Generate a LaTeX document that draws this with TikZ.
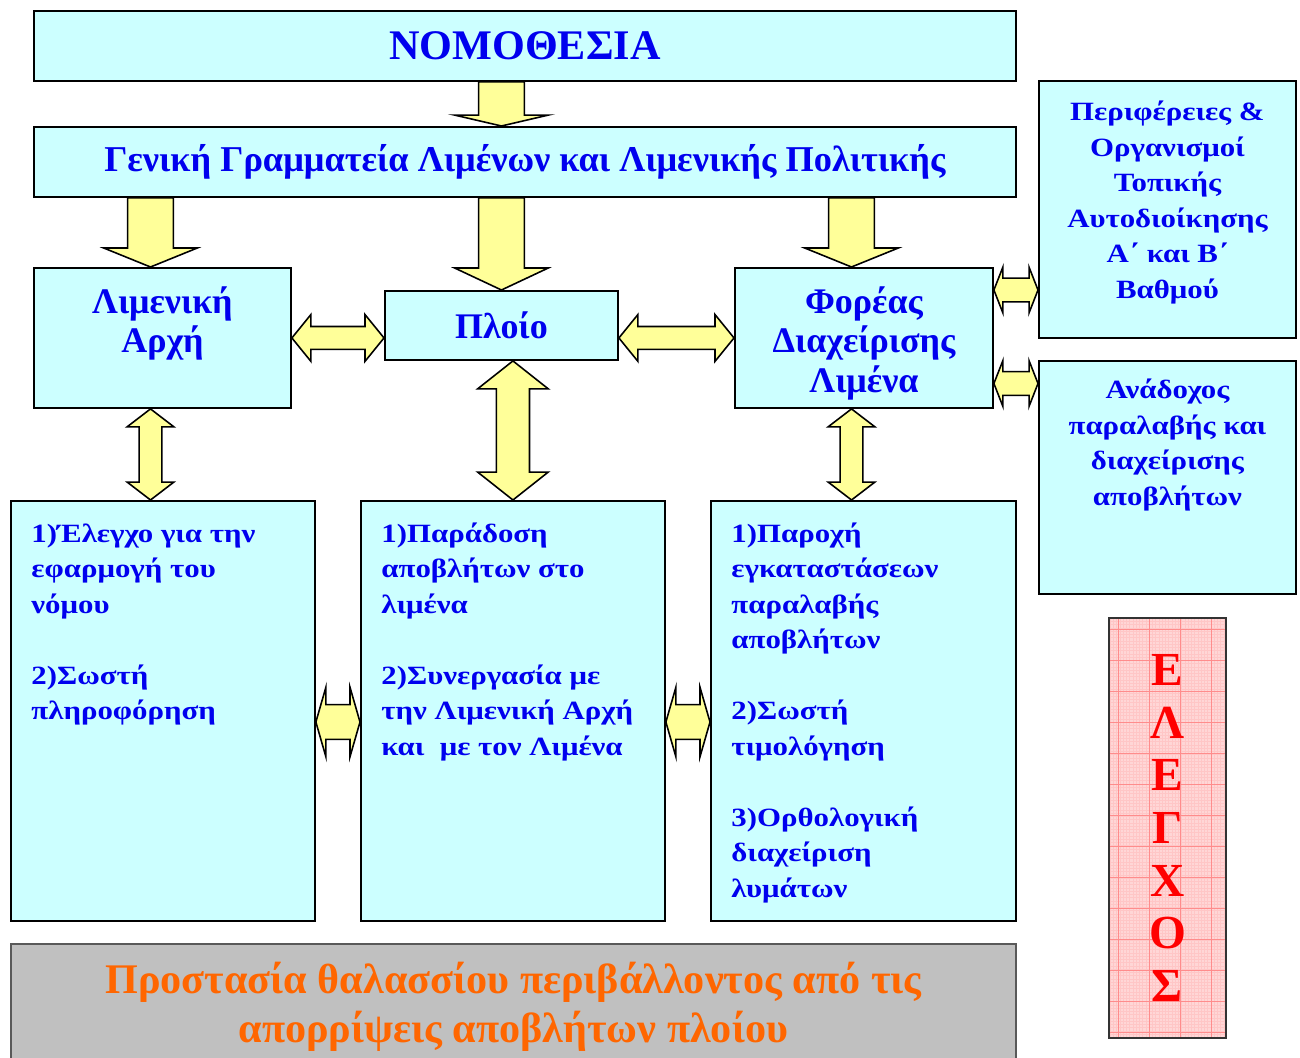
\documentclass[tikz,border=0pt]{standalone}
\usepackage{fontspec}
\setmainfont{Liberation Serif}
\newfontfamily\widefont[FakeStretch=1.17]{Liberation Serif}
\usetikzlibrary{calc}
\definecolor{boxfill}{HTML}{CCFFFF}
\definecolor{boxtext}{HTML}{0000EE}
\definecolor{arrowfill}{HTML}{FFFF99}
\definecolor{basefill}{HTML}{C0C0C0}
\definecolor{basetext}{HTML}{FF6600}
\definecolor{checkfill}{HTML}{FFD6D6}
\definecolor{checkline}{HTML}{FF8C8C}
\definecolor{checktext}{HTML}{FF0000}

\newcommand{\fatdown}[5]{%
  \filldraw[fat] let \p1=(#1), \p2=(#2) in
    (\x1-#3,\y1) -- (\x1-#3,\y2+#5) -- (\x1-#4,\y2+#5) -- (\x1,\y2)
    -- (\x1+#4,\y2+#5) -- (\x1+#3,\y2+#5) -- (\x1+#3,\y1) -- cycle;}
\newcommand{\fatvv}[5]{%
  \filldraw[fat] let \p1=(#1), \p2=(#2) in
    (\x1,\y1) -- (\x1+#4,\y1-#5) -- (\x1+#3,\y1-#5) -- (\x1+#3,\y2+#5)
    -- (\x1+#4,\y2+#5) -- (\x1,\y2) -- (\x1-#4,\y2+#5) -- (\x1-#3,\y2+#5)
    -- (\x1-#3,\y1-#5) -- (\x1-#4,\y1-#5) -- cycle;}
\newcommand{\fathh}[5]{%
  \filldraw[fat] let \p1=(#1), \p2=(#2) in
    (\x1,\y1) -- (\x1+#5,\y1+#4) -- (\x1+#5,\y1+#3) -- (\x2-#5,\y1+#3)
    -- (\x2-#5,\y1+#4) -- (\x2,\y1) -- (\x2-#5,\y1-#4) -- (\x2-#5,\y1-#3)
    -- (\x1+#5,\y1-#3) -- (\x1+#5,\y1-#4) -- cycle;}

\begin{document}
\begin{tikzpicture}[x=0.02cm,y=-0.02cm,
  box/.style={draw,line width=1.1pt,fill=boxfill,text=boxtext,inner sep=0pt,anchor=north west},
  headfont/.style={font=\fontsize{20.5}{22.4}\selectfont\bfseries},
  bodyfont/.style={font=\widefont\fontsize{15}{20.2}\selectfont\bfseries},
  check/.style={draw=black!80,fill=checkfill,text=checktext,align=center,
    font=\fontsize{27}{30}\selectfont\bfseries,
    path picture={
      \draw[checkline!50,line width=0.25pt,step=0.065cm] (path picture bounding box.south west) grid (path picture bounding box.north east);
      \draw[checkline,line width=0.4pt,step=0.62cm] (path picture bounding box.south west) grid (path picture bounding box.north east);}},
  fat/.style={draw,fill=arrowfill,line width=0.9pt}
]
\useasboundingbox (0,0) rectangle (1300,1057);
\clip (0,0) rectangle (1300,1057);
\fill[white] (0,0) rectangle (1300,1057);

\node[box,minimum width=19.64cm,minimum height=1.4cm,font=\fontsize{24}{28}\selectfont\bfseries] (nom) at (33,10) {ΝΟΜΟΘΕΣΙΑ};
\node[box,minimum width=19.64cm,minimum height=1.4cm,font=\fontsize{20.7}{25}\selectfont\bfseries] (gen) at (33,126) {Γενική Γραμματεία Λιμένων και Λιμενικής Πολιτικής};
\node[box,headfont,inner ysep=0.36cm] (lim) at (33,267)
  {\parbox[t][2.08cm][t]{5.14cm}{\centering\strut Λιμενική\\Αρχή}};
\node[box,headfont,minimum width=4.66cm,minimum height=1.38cm] (ploio) at (384,290) {Πλοίο};
\node[box,headfont,inner ysep=0.36cm] (foreas) at (734,267)
  {\parbox[t][2.08cm][t]{5.16cm}{\centering\strut Φορέας\\Διαχείρισης\\Λιμένα}};
\node[box,bodyfont,inner ysep=0.3cm] (perif) at (1038,80)
  {\parbox[t][4.54cm][t]{5.14cm}{\centering\strut Περιφέρειες \&\\Οργανισμοί\\Τοπικής\\Αυτοδιοίκησης\\Α΄ και Β΄\\Βαθμού}};
\node[box,bodyfont,inner ysep=0.26cm] (anad) at (1038,360)
  {\parbox[t][4.14cm][t]{5.14cm}{\centering\strut Ανάδοχος\\παραλαβής και\\διαχείρισης\\αποβλήτων}};

\node[box,bodyfont,inner xsep=0.41cm,inner ysep=0.33cm] (b1) at (10,500)
  {\parbox[t][7.74cm][t]{5.26cm}{\raggedright\strut 1)Έλεγχο για την\\εφαρμογή του\\νόμου\\[\baselineskip]2)Σωστή\\πληροφόρηση}};
\node[box,bodyfont,inner xsep=0.41cm,inner ysep=0.33cm] (b2) at (360,500)
  {\parbox[t][7.74cm][t]{5.26cm}{\raggedright\strut 1)Παράδοση\\αποβλήτων στο\\λιμένα\\[\baselineskip]2)Συνεργασία με\\την Λιμενική Αρχή\\και~ με τον Λιμένα}};
\node[box,bodyfont,inner xsep=0.41cm,inner ysep=0.33cm] (b3) at (710,500)
  {\parbox[t][7.74cm][t]{5.28cm}{\raggedright\strut 1)Παροχή\\εγκαταστάσεων\\παραλαβής\\αποβλήτων\\[\baselineskip]2)Σωστή\\τιμολόγηση\\[\baselineskip]3)Ορθολογική\\διαχείριση\\λυμάτων}};

\node[box,check,minimum width=2.34cm,minimum height=8.4cm] (elegx) at (1108,617) {Ε\\Λ\\Ε\\Γ\\Χ\\Ο\\Σ};

\node[box,fill=basefill,draw=black!65,text=basetext,font=\fontsize{24}{27.8}\selectfont\bfseries,inner ysep=0.31cm] (prot) at (10,943)
  {\parbox[t][2.3cm][t]{20.1cm}{\centering\strut Προστασία θαλασσίου περιβάλλοντος από τις\\απορρίψεις αποβλήτων πλοίου}};

\coordinate (colL) at (150.5,0);
\coordinate (colR) at (851.5,0);
\coordinate (rowA) at (0,290);
\coordinate (rowB) at (0,383.5);
\coordinate (rowC) at (0,722);

\fatdown{nom.south -| ploio.north}{gen.north -| ploio.north}{13pt}{26.6pt}{6.2pt}
\fatdown{gen.south -| colL}{lim.north -| colL}{13pt}{26.6pt}{10.8pt}
\fatdown{gen.south -| ploio.north}{ploio.north}{13pt}{26.6pt}{12.5pt}
\fatdown{gen.south -| colR}{foreas.north -| colR}{13pt}{26.6pt}{10.8pt}
\fathh{lim.east}{ploio.west |- lim.east}{6.5pt}{13.3pt}{10.8pt}
\fathh{ploio.east |- foreas.west}{foreas.west}{6.5pt}{13.3pt}{10.8pt}
\fathh{foreas.east |- rowA}{perif.west |- rowA}{6.8pt}{13pt}{5.1pt}
\fathh{foreas.east |- rowB}{anad.west |- rowB}{6.8pt}{13pt}{5.1pt}
\fatvv{lim.south -| colL}{b1.north -| colL}{6.5pt}{13.3pt}{10.2pt}
\fatvv{ploio.south -| b2.north}{b2.north}{9.4pt}{20.1pt}{15.9pt}
\fatvv{foreas.south -| colR}{b3.north -| colR}{6.5pt}{13.3pt}{10.2pt}
\fathh{b1.east |- rowC}{b2.west |- rowC}{9.9pt}{19.8pt}{5.7pt}
\fathh{b2.east |- rowC}{b3.west |- rowC}{9.9pt}{19.8pt}{5.7pt}
\end{tikzpicture}
\end{document}
